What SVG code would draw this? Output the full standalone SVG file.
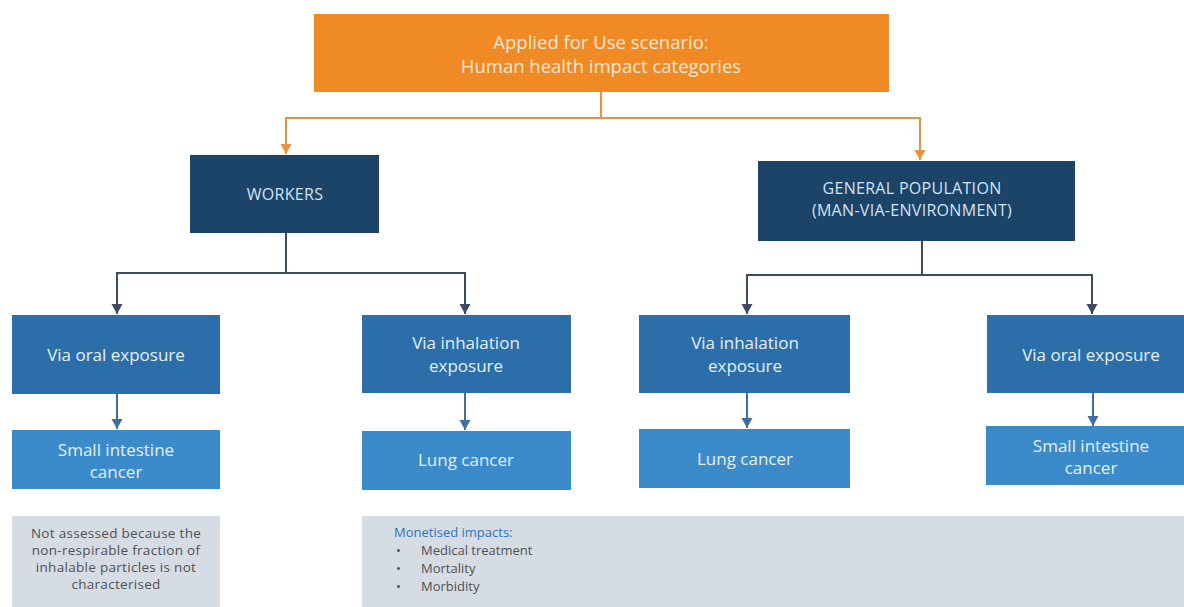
<svg xmlns="http://www.w3.org/2000/svg" width="1184" height="607" viewBox="0 0 1184 607">
<defs>
<style>
text{font-family:"Open Sans","Noto Sans","Liberation Sans",sans-serif;text-anchor:middle}
.orange{fill:#EF8A24}
.navy{fill:#1C4468}
.mid{fill:#2C6EA9}
.light{fill:#3B8BCB}
.grey{fill:#D6DCE4}
.t-top{fill:#FBE6D2;font-size:18.5px}
.t-navy{fill:#D3E3F2;font-size:16px;letter-spacing:0.3px}
.t-blue{fill:#E4EEF8;font-size:17px}
.t-grey{fill:#505050;font-size:13.5px;letter-spacing:0.3px}
.t-list{fill:#505050;font-size:13px;text-anchor:start}
.t-head{fill:#2E75B6;font-size:13px;text-anchor:start}
.c-dk{fill:none;stroke:#3A4D63;stroke-width:2}
.c-bl{fill:none;stroke:#3F6F9D;stroke-width:2}
.c-or{fill:none;stroke:#E9913F;stroke-width:2}
</style>
<marker id="ah-dk" markerUnits="userSpaceOnUse" markerWidth="12" markerHeight="12" viewBox="0 0 12 12" refX="11" refY="6" orient="auto"><path d="M1,0.5 L11,6 L1,11.5 Z" fill="#3A4D63"/></marker>
<marker id="ah-bl" markerUnits="userSpaceOnUse" markerWidth="12" markerHeight="12" viewBox="0 0 12 12" refX="11" refY="6" orient="auto"><path d="M1,0.5 L11,6 L1,11.5 Z" fill="#3F6F9D"/></marker>
<marker id="ah-o" markerUnits="userSpaceOnUse" markerWidth="12" markerHeight="12" viewBox="0 0 12 12" refX="11" refY="6" orient="auto"><path d="M1,0.5 L11,6 L1,11.5 Z" fill="#E9913F"/></marker>
</defs>
<rect width="1184" height="607" fill="#FFFFFF"/>

<g id="connectors">
<path class="c-or" d="M601,92 V118"/>
<path class="c-or" d="M601,118 H286 V154" marker-end="url(#ah-o)"/>
<path class="c-or" d="M601,118 H920 V160" marker-end="url(#ah-o)"/>
<path class="c-dk" d="M286,233 V273 H117 V314" marker-end="url(#ah-dk)"/>
<path class="c-dk" d="M286,273 H465 V314" marker-end="url(#ah-dk)"/>
<path class="c-dk" d="M922,241 V275 H747 V314" marker-end="url(#ah-dk)"/>
<path class="c-dk" d="M922,275 H1092 V314" marker-end="url(#ah-dk)"/>
<path class="c-bl" d="M117,394 V429" marker-end="url(#ah-bl)"/>
<path class="c-bl" d="M465,393 V430" marker-end="url(#ah-bl)"/>
<path class="c-bl" d="M747,393 V428" marker-end="url(#ah-bl)"/>
<path class="c-bl" d="M1093,393 V426" marker-end="url(#ah-bl)"/>
</g>

<g id="top">
<rect class="orange" x="314" y="14" width="575" height="78"/>
<text class="t-top" x="601" y="49">Applied for Use scenario:</text>
<text class="t-top" x="601" y="73">Human health impact categories</text>
</g>

<g id="workers">
<rect class="navy" x="190" y="155" width="189" height="78"/>
<text class="t-navy" x="285" y="200">WORKERS</text>
</g>

<g id="general-population">
<rect class="navy" x="758" y="161" width="317" height="80"/>
<text class="t-navy" x="912" y="194">GENERAL POPULATION</text>
<text class="t-navy" x="912" y="216">(MAN-VIA-ENVIRONMENT)</text>
</g>

<g id="w-oral">
<rect class="mid" x="12" y="315" width="208" height="79"/>
<text class="t-blue" x="116" y="361">Via oral exposure</text>
</g>

<g id="w-inhalation">
<rect class="mid" x="362" y="315" width="209" height="78"/>
<text class="t-blue" x="466" y="349">Via inhalation</text>
<text class="t-blue" x="466" y="372">exposure</text>
</g>

<g id="g-inhalation">
<rect class="mid" x="639" y="315" width="211" height="78"/>
<text class="t-blue" x="745" y="349">Via inhalation</text>
<text class="t-blue" x="745" y="372">exposure</text>
</g>

<g id="g-oral">
<rect class="mid" x="987" y="315" width="197" height="78"/>
<text class="t-blue" x="1091" y="361">Via oral exposure</text>
</g>

<g id="w-small-intestine">
<rect class="light" x="12" y="430" width="208" height="59"/>
<text class="t-blue" x="116" y="456">Small intestine</text>
<text class="t-blue" x="116" y="478">cancer</text>
</g>

<g id="w-lung">
<rect class="light" x="362" y="431" width="209" height="59"/>
<text class="t-blue" x="466" y="466">Lung cancer</text>
</g>

<g id="g-lung">
<rect class="light" x="639" y="429" width="211" height="59"/>
<text class="t-blue" x="745" y="465">Lung cancer</text>
</g>

<g id="g-small-intestine">
<rect class="light" x="986" y="426" width="198" height="59"/>
<text class="t-blue" x="1091" y="452">Small intestine</text>
<text class="t-blue" x="1091" y="474">cancer</text>
</g>

<g id="note-not-assessed">
<rect class="grey" x="12" y="516" width="208" height="91"/>
<text class="t-grey" x="116" y="538">Not assessed because the</text>
<text class="t-grey" x="116" y="555">non-respirable fraction of</text>
<text class="t-grey" x="116" y="572">inhalable particles is not</text>
<text class="t-grey" x="116" y="589">characterised</text>
</g>

<g id="note-monetised">
<rect class="grey" x="362" y="516" width="822" height="91"/>
<text class="t-head" x="394" y="537">Monetised impacts:</text>
<text class="t-list" y="555"><tspan x="396">•</tspan><tspan x="421">Medical treatment</tspan></text>
<text class="t-list" y="573"><tspan x="396">•</tspan><tspan x="421">Mortality</tspan></text>
<text class="t-list" y="591"><tspan x="396">•</tspan><tspan x="421">Morbidity</tspan></text>
</g>
</svg>
